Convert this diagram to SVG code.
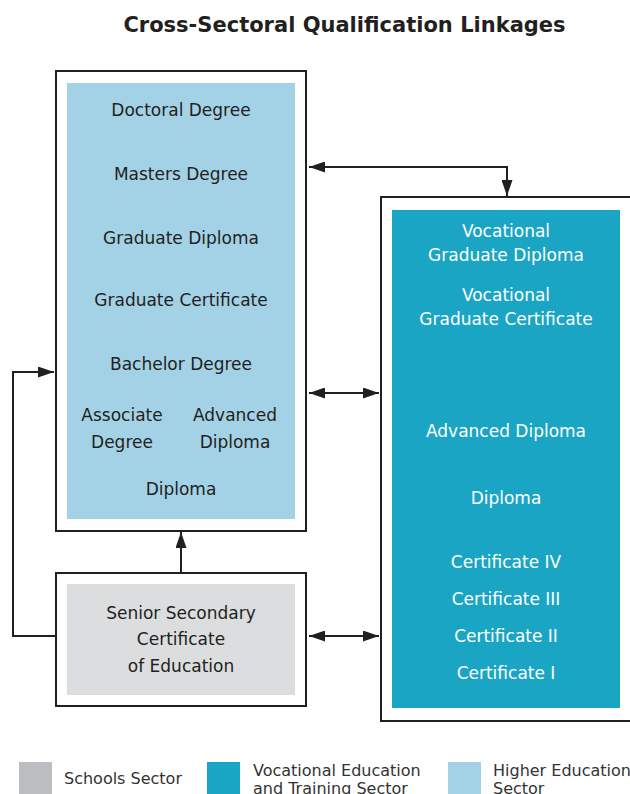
<svg xmlns="http://www.w3.org/2000/svg" width="630" height="794" viewBox="0 0 630 794">
<defs>
<style>
.frame{fill:#fff;stroke:#231f20;stroke-width:2}
.he{fill:#a3d2e6}
.vet{fill:#1ba5c4}
.ss{fill:#dcdddf}
.t{font-family:"DejaVu Sans","Liberation Sans",sans-serif;font-size:17px;fill:#231f20;text-anchor:middle}
.w{fill:#ffffff}
.lg{font-family:"DejaVu Sans","Liberation Sans",sans-serif;font-size:16px;fill:#333333}
.title{font-family:"DejaVu Sans","Liberation Sans",sans-serif;font-size:21px;font-weight:bold;fill:#231f20;text-anchor:middle}
.c{fill:none;stroke:#231f20;stroke-width:2}
</style>
<marker id="ah" viewBox="0 0 16 11" refX="16" refY="5.5" markerWidth="16" markerHeight="11" markerUnits="userSpaceOnUse" orient="auto-start-reverse">
<path d="M0,0 L16,5.5 L0,11 z" fill="#231f20"/>
</marker>
</defs>
<rect width="630" height="794" fill="#ffffff"/>
<text class="title" x="344.5" y="32">Cross-Sectoral Qualification Linkages</text>

<g id="higher-education">
<rect class="frame" x="56" y="71" width="250" height="460"/>
<rect class="he" x="67" y="83" width="228" height="436"/>
<text class="t" x="181" y="116">Doctoral Degree</text>
<text class="t" x="181" y="180">Masters Degree</text>
<text class="t" x="181" y="244">Graduate Diploma</text>
<text class="t" x="181" y="306">Graduate Certificate</text>
<text class="t" x="181" y="370">Bachelor Degree</text>
<text class="t" x="122" y="421">Associate</text>
<text class="t" x="122" y="448">Degree</text>
<text class="t" x="235" y="421">Advanced</text>
<text class="t" x="235" y="448">Diploma</text>
<text class="t" x="181" y="495">Diploma</text>
</g>

<g id="vet">
<rect class="frame" x="381" y="197" width="252" height="524"/>
<rect class="vet" x="392" y="210" width="228" height="498"/>
<text class="t w" x="506" y="237">Vocational</text>
<text class="t w" x="506" y="261">Graduate Diploma</text>
<text class="t w" x="506" y="301">Vocational</text>
<text class="t w" x="506" y="325">Graduate Certificate</text>
<text class="t w" x="506" y="437">Advanced Diploma</text>
<text class="t w" x="506" y="504">Diploma</text>
<text class="t w" x="506" y="568">Certificate IV</text>
<text class="t w" x="506" y="605">Certificate III</text>
<text class="t w" x="506" y="642">Certificate II</text>
<text class="t w" x="506" y="679">Certificate I</text>
</g>

<g id="schools">
<rect class="frame" x="56" y="573" width="250" height="133"/>
<rect class="ss" x="67" y="584" width="228" height="111"/>
<text class="t" x="181" y="619">Senior Secondary</text>
<text class="t" x="181" y="645">Certificate</text>
<text class="t" x="181" y="672">of Education</text>
</g>

<g id="connectors">
<path class="c" d="M309,167 H507 V196" marker-start="url(#ah)" marker-end="url(#ah)"/>
<path class="c" d="M309,393 H379" marker-start="url(#ah)" marker-end="url(#ah)"/>
<path class="c" d="M309,636 H379" marker-start="url(#ah)" marker-end="url(#ah)"/>
<path class="c" d="M181,572 V532" marker-end="url(#ah)"/>
<path class="c" d="M55,636 H13 V372 H54" marker-end="url(#ah)"/>
</g>

<g id="legend">
<rect x="19" y="762" width="33" height="34" fill="#bbbdc0"/>
<text class="lg" x="64" y="784">Schools Sector</text>
<rect x="207" y="762" width="33" height="34" fill="#1ba5c4"/>
<text class="lg" x="253" y="776">Vocational Education</text>
<text class="lg" x="253" y="794">and Training Sector</text>
<rect x="448" y="762" width="33" height="34" fill="#a3d2e6"/>
<text class="lg" x="493" y="776">Higher Education</text>
<text class="lg" x="493" y="794">Sector</text>
</g>
</svg>
